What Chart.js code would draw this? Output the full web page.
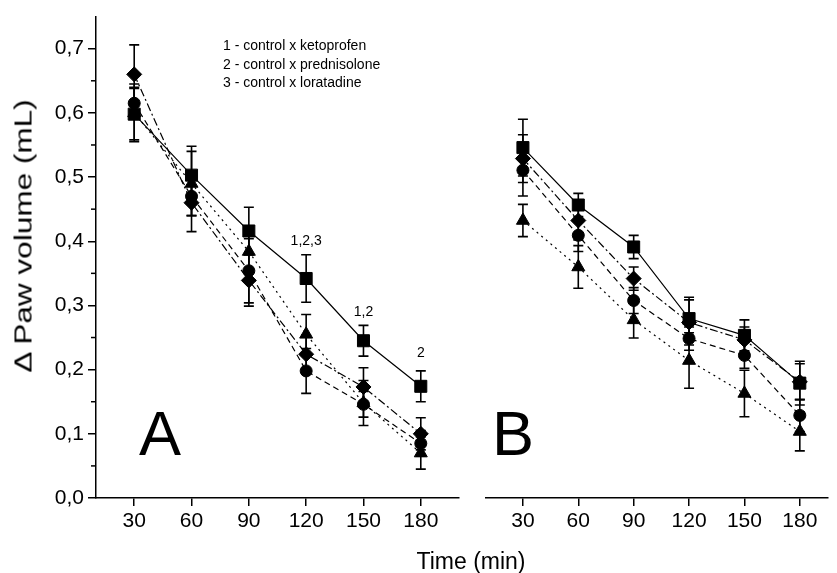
<!DOCTYPE html>
<html>
<head>
<meta charset="utf-8">
<script src="https://cdn.jsdelivr.net/npm/chart.js@4.4.1/dist/chart.umd.min.js"></script>
<style>
  body { margin: 0; background: #fff; width: 837px; height: 573px; overflow: hidden; position: relative;
         font-family: Arial, "Liberation Sans", sans-serif; color: #000; }
  canvas { position: absolute; top: 0; }
  #chartA { left: 0; }
  #chartB { left: 470px; }
  .txt { position: absolute; white-space: nowrap; }
  #ytitle { left: 24px; top: 236px; font-size: 23px; transform: translate(-50%, -50%) rotate(-90deg) scaleX(1.37); }
  #xtitle { left: 471px; top: 561px; font-size: 23px; transform: translate(-50%, -50%); }
  #legend { left: 223px; top: 36px; font-size: 14px; line-height: 18.5px; }
  .panel { font-size: 63px; line-height: 1; top: 402px; }
</style>
</head>
<body>
<canvas id="chartA" width="470" height="573"></canvas>
<canvas id="chartB" width="367" height="573"></canvas>
<div class="txt" id="ytitle">Δ Paw volume (mL)</div>
<div class="txt" id="xtitle">Time (min)</div>
<div class="txt" id="legend">1 - control x ketoprofen<br>2 - control x prednisolone<br>3 - control x loratadine</div>
<div class="txt panel" style="left:139px">A</div>
<div class="txt panel" style="left:492px">B</div>
<script>
// time points and axis ticks
const times = [30, 60, 90, 120, 150, 180];
const xTicks = [30, 60, 90, 120, 150, 180];
const yTicks = [0, 0.1, 0.2, 0.3, 0.4, 0.5, 0.6, 0.7];
const yMinorTicks = [0.05, 0.15, 0.25, 0.35, 0.45, 0.55, 0.65];

// panel A (mean and error)
const squaresA = [0.598, 0.503, 0.416, 0.342, 0.245, 0.174];
const squaresAErr = [0.040, 0.045, 0.037, 0.037, 0.024, 0.024];
const circlesA = [0.615, 0.470, 0.354, 0.198, 0.146, 0.085];
const circlesAErr = [0.025, 0.030, 0.050, 0.035, 0.020, 0.020];
const diamondsA = [0.660, 0.460, 0.339, 0.224, 0.173, 0.100];
const diamondsAErr = [0.046, 0.045, 0.040, 0.030, 0.030, 0.025];
const trianglesA = [0.600, 0.490, 0.384, 0.255, 0.148, 0.070];
const trianglesAErr = [0.045, 0.050, 0.030, 0.031, 0.035, 0.025];

// panel B
const squaresB = [0.543, 0.454, 0.389, 0.278, 0.252, 0.178];
const squaresBErr = [0.044, 0.018, 0.018, 0.033, 0.024, 0.034];
const circlesB = [0.508, 0.407, 0.306, 0.247, 0.221, 0.128];
const circlesBErr = [0.040, 0.025, 0.020, 0.018, 0.020, 0.025];
const diamondsB = [0.526, 0.430, 0.340, 0.272, 0.245, 0.180];
const diamondsBErr = [0.037, 0.030, 0.018, 0.035, 0.020, 0.028];
const trianglesB = [0.430, 0.358, 0.276, 0.213, 0.162, 0.103];
const trianglesBErr = [0.025, 0.033, 0.028, 0.043, 0.036, 0.030];

// significance notes in panel A
const notesText = ['1,2,3', '1,2', '2'];
const notesX = [120, 150, 180];
const notesY = [0.40, 0.29, 0.225];

function series(values, errs, style, radius, dash) {
    return {
        data: times.map(function (t, i) { return { x: t, y: values[i] }; }),
        errors: errs,
        borderColor: '#000',
        borderWidth: 1.2,
        borderDash: dash,
        backgroundColor: '#000',
        pointStyle: style,
        pointRadius: radius,
        pointBorderWidth: 1,
        pointBackgroundColor: '#000',
        pointBorderColor: '#000',
        tension: 0,
        fill: false
    };
}

const errorBars = {
    id: 'errorBars',
    beforeDatasetsDraw(chart) {
        var ctx = chart.ctx, xs = chart.scales.x, ys = chart.scales.y;
        ctx.save();
        ctx.strokeStyle = '#000';
        ctx.lineWidth = 1.6;
        chart.data.datasets.forEach(function (ds) {
            ds.data.forEach(function (p, i) {
                var px = xs.getPixelForValue(p.x);
                var top = ys.getPixelForValue(p.y + ds.errors[i]);
                var bot = ys.getPixelForValue(p.y - ds.errors[i]);
                ctx.beginPath();
                ctx.moveTo(px, top); ctx.lineTo(px, bot);
                ctx.moveTo(px - 5, top); ctx.lineTo(px + 5, top);
                ctx.moveTo(px - 5, bot); ctx.lineTo(px + 5, bot);
                ctx.stroke();
            });
        });
        ctx.restore();
    }
};

const minorTicks = {
    id: 'minorTicks',
    afterDraw(chart) {
        var ctx = chart.ctx, ys = chart.scales.y, left = chart.chartArea.left;
        ctx.save();
        ctx.strokeStyle = '#000';
        ctx.lineWidth = 1.5;
        yMinorTicks.forEach(function (v) {
            var py = ys.getPixelForValue(v);
            ctx.beginPath();
            ctx.moveTo(left - 5, py); ctx.lineTo(left, py);
            ctx.stroke();
        });
        ctx.restore();
    }
};

const notes = {
    id: 'notes',
    afterDatasetsDraw(chart) {
        var ctx = chart.ctx, xs = chart.scales.x, ys = chart.scales.y;
        ctx.save();
        ctx.fillStyle = '#000';
        ctx.font = '14px Arial, "Liberation Sans", sans-serif';
        ctx.textAlign = 'center';
        ctx.textBaseline = 'middle';
        notesText.forEach(function (t, i) {
            ctx.fillText(t, xs.getPixelForValue(notesX[i]), ys.getPixelForValue(notesY[i]));
        });
        ctx.restore();
    }
};

function panel(canvasId, datasets, showY, xMax, padLeft, padRight, plugins) {
    var font = { family: 'Arial, "Liberation Sans", sans-serif', size: 21 };
    return new Chart(document.getElementById(canvasId), {
        type: 'line',
        data: { datasets: datasets },
        plugins: [errorBars].concat(plugins),
        options: {
            responsive: false,
            animation: false,
            devicePixelRatio: 1,
            layout: { padding: { top: 14, left: padLeft, right: padRight, bottom: 0 } },
            plugins: { legend: { display: false }, tooltip: { enabled: false } },
            scales: {
                x: {
                    type: 'linear',
                    min: 10,
                    max: xMax,
                    afterBuildTicks: function (s) { s.ticks = xTicks.map(function (v) { return { value: v }; }); },
                    afterFit: function (s) { s.height = 75; },
                    grid: { drawOnChartArea: false, tickLength: 8, color: '#000', lineWidth: 1.5 },
                    border: { color: '#000', width: 1.5 },
                    ticks: { font: font, color: '#000', padding: 3, maxRotation: 0, autoSkip: false }
                },
                y: {
                    display: showY,
                    min: 0,
                    max: 0.75,
                    afterBuildTicks: function (s) { s.ticks = yTicks.map(function (v) { return { value: v }; }); },
                    afterFit: function (s) { s.width = showY ? 96 : 0; },
                    grid: { drawOnChartArea: false, tickLength: 8, color: '#000', lineWidth: 1.5 },
                    border: { color: '#000', width: 1.5 },
                    ticks: {
                        font: font, color: '#000', padding: 4,
                        callback: function (v) { return v.toFixed(1).replace('.', ','); }
                    }
                }
            }
        }
    });
}

panel('chartA', [
    series(squaresA, squaresAErr, 'rect', 8.5, []),
    series(circlesA, circlesAErr, 'circle', 6, [6, 4]),
    series(diamondsA, diamondsAErr, 'rectRot', 7.5, [8, 3, 2, 3]),
    series(trianglesA, trianglesAErr, 'triangle', 7.5, [2, 4])
], true, 200, 0, 11, [minorTicks, notes]);

panel('chartB', [
    series(squaresB, squaresBErr, 'rect', 8.5, []),
    series(circlesB, circlesBErr, 'circle', 6, [6, 4]),
    series(diamondsB, diamondsBErr, 'rectRot', 7.5, [8, 3, 2, 3]),
    series(trianglesB, trianglesBErr, 'triangle', 7.5, [2, 4])
], false, 195, 16, 0, []);
</script>
</body>
</html>
